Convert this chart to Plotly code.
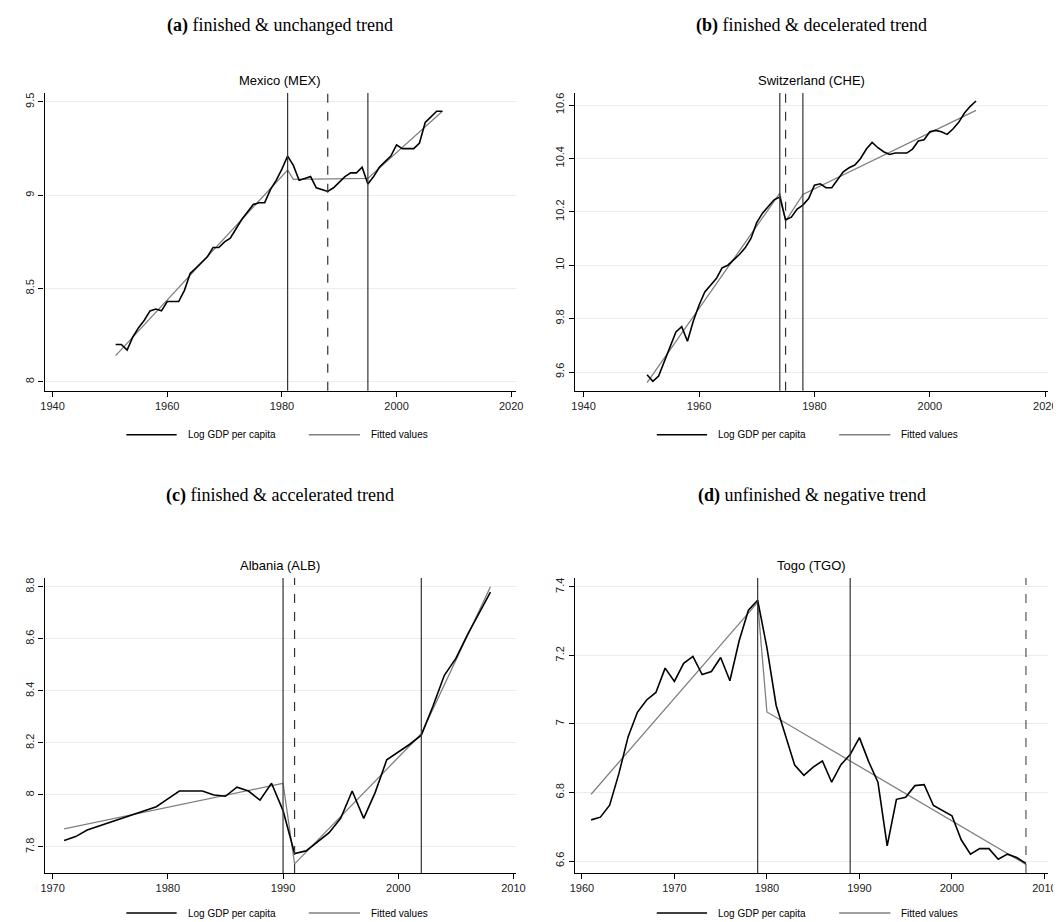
import plotly.graph_objects as go

W, H = 1061, 922

mex_years = list(range(1951, 2009))
mex_gdp = [8.20, 8.20, 8.17, 8.24, 8.29, 8.33, 8.38, 8.39, 8.38, 8.43, 8.43, 8.43, 8.49, 8.58,
           8.61, 8.64, 8.67, 8.72, 8.72, 8.75, 8.77, 8.82, 8.87, 8.91, 8.95, 8.96, 8.96, 9.03,
           9.08, 9.14, 9.21, 9.16, 9.08, 9.09, 9.10, 9.04, 9.03, 9.02, 9.04, 9.07, 9.10, 9.12,
           9.12, 9.15, 9.06, 9.10, 9.15, 9.18, 9.21, 9.27, 9.25, 9.25, 9.25, 9.28, 9.39, 9.42,
           9.45, 9.45]
mex_fit_years = [1951, 1981, 1982, 1995, 2008]
mex_fit = [8.14, 9.135, 9.085, 9.09, 9.45]
mex_breaks = [1981, 1988, 1995]
mex_dash = [False, True, False]

che_years = list(range(1951, 2009))
che_gdp = [9.59, 9.565, 9.585, 9.64, 9.70, 9.75, 9.77, 9.715, 9.79, 9.85, 9.90, 9.925, 9.95,
           9.99, 10.00, 10.02, 10.04, 10.065, 10.10, 10.16, 10.195, 10.22, 10.245, 10.255,
           10.17, 10.18, 10.21, 10.225, 10.25, 10.30, 10.305, 10.29, 10.29, 10.32, 10.35,
           10.365, 10.375, 10.40, 10.435, 10.46, 10.44, 10.425, 10.415, 10.42, 10.42, 10.42,
           10.435, 10.465, 10.47, 10.50, 10.505, 10.50, 10.49, 10.51, 10.535, 10.57, 10.595,
           10.615]
che_fit_years = [1951, 1974, 1975, 1978, 2008]
che_fit = [9.56, 10.27, 10.165, 10.265, 10.58]
che_breaks = [1974, 1975, 1978]
che_dash = [False, True, False]

alb_years = list(range(1971, 2009))
alb_gdp = [7.825, 7.84, 7.865, 7.88, 7.895, 7.91, 7.925, 7.94, 7.955, 7.985, 8.015, 8.015,
           8.015, 8.00, 7.995, 8.03, 8.015, 7.98, 8.045, 7.94, 7.775, 7.785, 7.82, 7.855,
           7.91, 8.015, 7.91, 8.01, 8.135, 8.165, 8.195, 8.23, 8.34, 8.46, 8.525, 8.615,
           8.70, 8.78]
alb_fit_years = [1971, 1990, 1991, 2002, 2008]
alb_fit = [7.87, 8.045, 7.735, 8.235, 8.80]
alb_breaks = [1990, 1991, 2002]
alb_dash = [False, True, False]

tgo_years = list(range(1961, 2009))
tgo_gdp = [6.72, 6.728, 6.763, 6.855, 6.963, 7.034, 7.07, 7.092, 7.163, 7.124, 7.177, 7.197,
           7.144, 7.153, 7.194, 7.126, 7.243, 7.332, 7.361, 7.223, 7.054, 6.97, 6.88, 6.85,
           6.874, 6.892, 6.83, 6.881, 6.911, 6.96, 6.89, 6.83, 6.644, 6.78, 6.786, 6.82,
           6.823, 6.762, 6.748, 6.732, 6.662, 6.62, 6.636, 6.636, 6.605, 6.62, 6.61, 6.593]
tgo_fit_years = [1961, 1979, 1980, 2008]
tgo_fit = [6.795, 7.355, 7.035, 6.59]
tgo_breaks = [1979, 1989, 2008]
tgo_dash = [False, False, True]

panels = [
    dict(name="Mexico (MEX)", header="<b>(a)</b> finished &amp; unchanged trend",
         years=mex_years, gdp=mex_gdp, fy=mex_fit_years, fv=mex_fit, br=mex_breaks, dash=mex_dash,
         xr=[1938.6, 2020.8], xt=[1940, 1960, 1980, 2000, 2020], yr=[7.952, 9.548],
         yt=[8, 8.5, 9, 9.5], px=(32, 510), py=(85, 382.7), lg=44),
    dict(name="Switzerland (CHE)", header="<b>(b)</b> finished &amp; decelerated trend",
         years=che_years, gdp=che_gdp, fy=che_fit_years, fv=che_fit, br=che_breaks, dash=che_dash,
         xr=[1938.5, 2020.5], xt=[1940, 1960, 1980, 2000, 2020], yr=[9.53, 10.645],
         yt=[9.6, 9.8, 10, 10.2, 10.4, 10.6], px=(570, 1050), py=(85, 382.7), lg=44),
    dict(name="Albania (ALB)", header="<b>(c)</b> finished &amp; accelerated trend",
         years=alb_years, gdp=alb_gdp, fy=alb_fit_years, fv=alb_fit, br=alb_breaks, dash=alb_dash,
         xr=[1969.3, 2010.2], xt=[1970, 1980, 1990, 2000, 2010], yr=[7.70, 8.834],
         yt=[7.8, 8, 8.2, 8.4, 8.6, 8.8], px=(32, 510), py=(570, 865), lg=40),
    dict(name="Togo (TGO)", header="<b>(d)</b> unfinished &amp; negative trend",
         years=tgo_years, gdp=tgo_gdp, fy=tgo_fit_years, fv=tgo_fit, br=tgo_breaks, dash=tgo_dash,
         xr=[1959.25, 2010.4], xt=[1960, 1970, 1980, 1990, 2000, 2010], yr=[6.565, 7.426],
         yt=[6.6, 6.8, 7, 7.2, 7.4], px=(570, 1050), py=(570, 865), lg=40),
]

fig = go.Figure()
shapes, annotations = [], []
tickfont = dict(family="Liberation Sans, Arial, sans-serif", size=11, color="#222")

for i, p in enumerate(panels):
    n = "" if i == 0 else str(i + 1)
    xa, ya = "x" + n, "y" + n
    fig.add_trace(go.Scatter(x=p["fy"], y=p["fv"], mode="lines", xaxis=xa, yaxis=ya,
                             line=dict(color="#808080", width=1.3), showlegend=False))
    fig.add_trace(go.Scatter(x=p["years"], y=p["gdp"], mode="lines", xaxis=xa, yaxis=ya,
                             line=dict(color="black", width=1.6), showlegend=False))
    x0, x1 = p["px"][0] / W, p["px"][1] / W
    y0, y1 = 1 - p["py"][1] / H, 1 - p["py"][0] / H
    common = dict(showline=True, linecolor="black", linewidth=1.3, ticks="outside",
                  ticklen=5, tickcolor="black", tickfont=tickfont, zeroline=False)
    fig.layout["xaxis" + n] = dict(domain=[x0, x1], range=p["xr"], tickvals=p["xt"],
                                   anchor=ya, showgrid=False, **common)
    fig.layout["yaxis" + n] = dict(domain=[y0, y1], range=p["yr"], tickvals=p["yt"],
                                   anchor=xa, showgrid=True, gridcolor="#ececec",
                                   tickangle=-90, **common)
    for b, d in zip(p["br"], p["dash"]):
        shapes.append(dict(type="line", xref=xa, yref=ya + " domain", x0=b, x1=b, y0=0, y1=1,
                           line=dict(color="#555" if d and i == 3 else "#333", width=1.2,
                                     dash="dash" if d else "solid")))
    cx = (x0 + x1) / 2
    annotations.append(dict(text=p["name"], x=cx, y=y1, xref="paper", yref="paper",
                            xanchor="center", yanchor="bottom", yshift=3, showarrow=False,
                            font=dict(family="Liberation Sans, Arial, sans-serif", size=13,
                                      color="black")))
    hy = 1 - (17 if i < 2 else 487) / H
    annotations.append(dict(text=p["header"], x=cx, y=hy, xref="paper", yref="paper",
                            xanchor="center", yanchor="middle", showarrow=False,
                            font=dict(family="Liberation Serif, serif", size=18, color="black")))
    ly = 1 - (p["py"][1] + p["lg"]) / H
    l0 = p["px"][0]
    for (sx0, sx1, col, tx, txt) in [(83, 134, "black", 143, "Log GDP per capita"),
                                      (268, 320, "#808080", 329, "Fitted values")]:
        shapes.append(dict(type="line", xref="paper", yref="paper",
                           x0=(l0 + sx0) / W, x1=(l0 + sx1) / W, y0=ly, y1=ly,
                           line=dict(color=col, width=1.4)))
        annotations.append(dict(text=txt, x=(l0 + tx) / W, y=ly, xref="paper", yref="paper",
                                xanchor="left", yanchor="middle", showarrow=False,
                                font=dict(family="Liberation Sans, Arial, sans-serif", size=10,
                                          color="black")))

fig.update_layout(width=W, height=H, margin=dict(l=0, r=0, t=0, b=0),
                  paper_bgcolor="white", plot_bgcolor="white",
                  shapes=shapes, annotations=annotations, showlegend=False)
fig.write_html("out.html")
